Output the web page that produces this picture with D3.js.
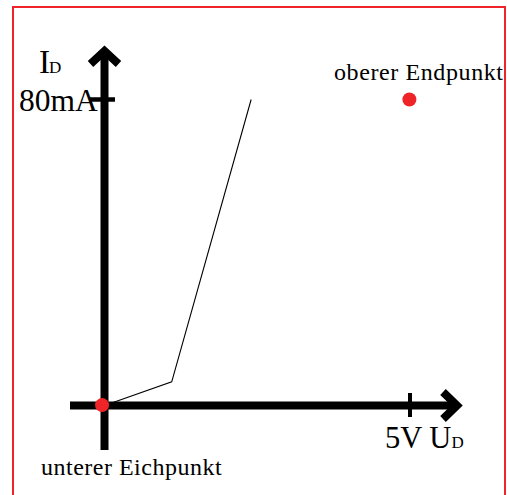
<!DOCTYPE html>
<html><head><meta charset="utf-8">
<script src="https://cdn.jsdelivr.net/npm/d3@7"></script>
<style>body{margin:0;background:#fff}svg{display:block}text{font-family:"Liberation Serif","Times New Roman",serif;fill:#000}</style>
</head><body>
<script>
// data
const curveVolts = [0, 1.1, 2.4];
const curveMilliamps = [0, 6.2, 80];
const calibPoints = [
  {name: "unterer Eichpunkt", v: -0.04, mA: 0.1},
  {name: "oberer Endpunkt", v: 4.99, mA: 80}
];
const xTickValues = [5];
const yTickValues = [80];
const xTickLabel = "5V";
const yTickLabel = "80mA";

const W = 507, H = 495;
const svg = d3.select("body").append("svg").attr("width", W).attr("height", H);

const x = d3.scaleLinear().domain([0, 5]).range([104.5, 410]);
const y = d3.scaleLinear().domain([0, 80]).range([405.5, 99.5]);

const red = "#ee2428";
// frame
svg.append("rect").attr("x", 13).attr("y", 7).attr("width", 492).attr("height", 500)
  .attr("fill", "none").attr("stroke", red).attr("stroke-width", 2);

// axes lines
const ax = svg.append("g").attr("stroke", "#000").attr("fill", "none");
ax.append("line").attr("x1", 70).attr("x2", 455).attr("y1", y(0)).attr("y2", y(0)).attr("stroke-width", 8);
ax.append("line").attr("x1", x(0)).attr("x2", x(0)).attr("y1", 450).attr("y2", 52).attr("stroke-width", 8);
// arrowheads
ax.append("path").attr("d", `M443,392 L457,${y(0)} L443,419`).attr("stroke-width", 8).attr("stroke-linejoin", "miter").attr("stroke-miterlimit", 2);
ax.append("path").attr("d", `M${x(0)-14},64 L${x(0)},51 L${x(0)+14},64`).attr("stroke-width", 8).attr("stroke-linejoin", "miter").attr("stroke-miterlimit", 2);
// ticks
xTickValues.forEach(v => ax.append("line").attr("x1", x(v)).attr("x2", x(v)).attr("y1", 393).attr("y2", 417).attr("stroke-width", 4));
yTickValues.forEach(v => ax.append("line").attr("x1", 90).attr("x2", 115).attr("y1", y(v)).attr("y2", y(v)).attr("stroke-width", 4.5));

// curve
const line = d3.line().x((d, i) => x(curveVolts[i])).y((d, i) => y(curveMilliamps[i]));
svg.append("path").datum(curveVolts).attr("d", line).attr("fill", "none").attr("stroke", "#000").attr("stroke-width", 1.1);

// calibration points
svg.selectAll("circle.pt").data(calibPoints).enter().append("circle").attr("class", "pt")
  .attr("cx", d => x(d.v)).attr("cy", d => y(d.mA)).attr("r", 7).attr("fill", red);

// labels
const t1 = svg.append("text").attr("x", 39).attr("y", 73).attr("font-size", 33);
t1.append("tspan").text("I");
t1.append("tspan").attr("font-size", 17).attr("dx", -1).text("D");
svg.append("text").attr("x", 19).attr("y", 111).attr("font-size", 31.5).text(yTickLabel);

const t2 = svg.append("text").attr("x", 385).attr("y", 448).attr("font-size", 30.5);
t2.append("tspan").text(xTickLabel + " U");
t2.append("tspan").attr("font-size", 17).text("D");

svg.append("text").attr("x", 334).attr("y", 80).attr("font-size", 24).attr("letter-spacing", 0.6).text(calibPoints[1].name);
svg.append("text").attr("x", 41).attr("y", 475).attr("font-size", 24).attr("letter-spacing", 0.5).text(calibPoints[0].name);
</script>
</body></html>
